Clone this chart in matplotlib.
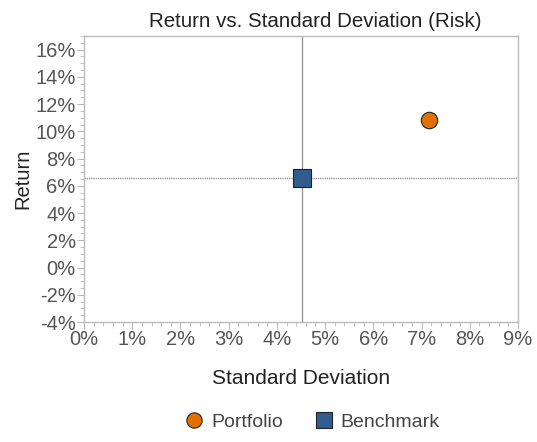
import matplotlib
matplotlib.use("Agg")
import matplotlib.pyplot as plt
from matplotlib.ticker import MultipleLocator, FuncFormatter
from matplotlib.lines import Line2D

plt.rcParams['font.family'] = ['Liberation Sans', 'DejaVu Sans']

series = ["Portfolio", "Benchmark"]
std_dev = [7.16, 4.52]
returns = [10.85, 6.6]
colors = ["#E07000", "#335C8E"]
markers = ["o", "s"]
xticks = list(range(0, 10))
yticks = list(range(-4, 18, 2))

fig = plt.figure(figsize=(5.37, 4.42), dpi=100)
ax = fig.add_axes([84/537, 1-322/442, (518-84)/537, (322-36)/442])

bx, by = std_dev[1], returns[1]
ax.axvline(bx, color="#999999", lw=1.0, zorder=1)
ax.axhline(by, color="#999999", lw=1.0, ls=(0, (1, 0.6)), zorder=1)

for s, x, y, c, m in zip(series, std_dev, returns, colors, markers):
    ax.scatter([x], [y], s=160 if m == "s" else 140, c=c, marker=m,
               edgecolors="#222222", linewidths=0.8, zorder=3, label=s)

ax.set_xlim(0, 9)
ax.set_ylim(-4, 17)
ax.set_xticks(xticks)
ax.set_yticks(yticks)
ax.xaxis.set_minor_locator(MultipleLocator(0.2))
ax.yaxis.set_minor_locator(MultipleLocator(0.5))
fmt = FuncFormatter(lambda v, p: f"{v:.0f}%")
ax.xaxis.set_major_formatter(fmt)
ax.yaxis.set_major_formatter(fmt)

for sp in ax.spines.values():
    sp.set_color("#BBBBBB")
    sp.set_linewidth(1.0)
ax.tick_params(which="major", length=5, color="#BBBBBB", labelsize=14.5, labelcolor="#555555", pad=1)
ax.tick_params(which="minor", length=3, color="#BBBBBB")

fig.text(315/537, 1-27/442, "Return vs. Standard Deviation (Risk)", fontsize=14.8,
         color="#222222", ha="center", va="baseline")
ax.set_xlabel("Standard Deviation", fontsize=15, color="#222222", labelpad=14)
ax.set_ylabel("Return", fontsize=14.5, color="#222222", labelpad=2)

handles = [Line2D([], [], ls="none", marker=m, markersize=11.5 if m == "s" else 11,
                  markerfacecolor=c, markeredgecolor="#222222", markeredgewidth=0.8)
           for c, m in zip(colors, markers)]
fig.legend(handles=handles, labels=series, loc="lower center", ncol=2, frameon=False,
           fontsize=14, bbox_to_anchor=(312/537, -0.015), handletextpad=0.35,
           handlelength=1.0, columnspacing=1.6, labelcolor="#444444")

fig.savefig("out.png", dpi=100)
